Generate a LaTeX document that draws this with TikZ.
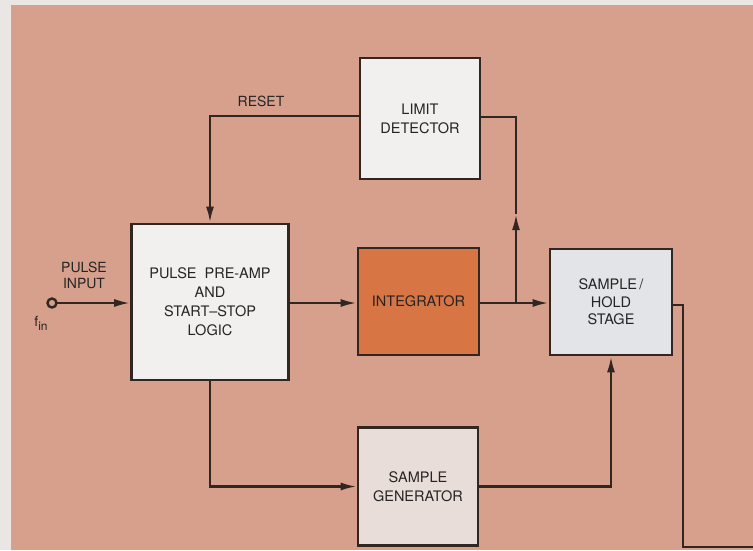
\documentclass[tikz,border=0pt]{standalone}
\usepackage{fontspec}
\setmainfont{TeX Gyre Heros}
\usetikzlibrary{arrows.meta}
\definecolor{bgs}{RGB}{214,160,140}
\definecolor{strip}{RGB}{233,230,227}
\definecolor{boxw}{RGB}{241,240,238}
\definecolor{boxo}{RGB}{216,117,68}
\definecolor{boxb}{RGB}{227,228,231}
\definecolor{boxp}{RGB}{233,221,217}
\definecolor{ink}{RGB}{50,38,34}
\definecolor{txt}{RGB}{38,36,36}
\begin{document}
\begin{tikzpicture}[x=1pt,y=-1pt,
  blk/.style={draw=ink,line width=2.6pt,inner sep=2pt,align=center,text=txt,
    font=\fontsize{14.5}{19}\selectfont},
  wire/.style={draw=ink,line width=2.4pt},
  arr/.style={wire,-{Latex[length=16pt,width=8pt]}},
  lbl/.style={text=txt,font=\fontsize{14}{16}\selectfont,align=center,inner sep=0pt}]
\useasboundingbox (0,0) rectangle (753,550);
\fill[strip] (0,0) rectangle (753,550);
\fill[bgs] (11,5) rectangle (753,550);
% blocks
\node[blk,fill=boxw,minimum width=157pt,minimum height=156pt] (pre) at (210,302)
  {PULSE\ \ PRE-AMP\\AND\\START--STOP\\LOGIC};
\node[blk,fill=boxw,minimum width=120pt,minimum height=121pt] (lim) at (420,118.5)
  {LIMIT\\DETECTOR};
\node[blk,fill=boxo,minimum width=121pt,minimum height=107pt] (int) at (418.5,301.5)
  {INTEGRATOR};
\node[blk,fill=boxb,minimum width=122pt,minimum height=106pt,
  font=\fontsize{14.5}{17.5}\selectfont] (sh) at (611,302)
  {SAMPLE\,/\\HOLD\\STAGE};
\node[blk,fill=boxp,minimum width=120pt,minimum height=118pt] (sg) at (418,486.5)
  {SAMPLE\\GENERATOR};
% coordinates
\coordinate (in) at (52,303);
\coordinate (j) at (516,303);
\coordinate (jm) at (516,214);
\coordinate (jt) at (516,117);
\coordinate (r) at (210,116);
\coordinate (o1) at (683,305);
\coordinate (o2) at (683,547);
\coordinate (out) at (753,547);
% connectors
\draw[wire,fill=bgs] (in) circle (4.5pt);
\draw[arr] ([xshift=4.5pt]in) -- (in -| pre.west);
\draw[arr] (pre.east |- j) -- (int.west |- j);
\draw[arr] (int.east |- j) -- (sh.west |- j);
\draw[arr] (j) -- (jm);
\draw[wire] (jm) -- (jt) -- (lim.east |- jt);
\draw[arr] (lim.west |- r) -- (r) -- (pre.north);
\draw[arr] (pre.south) |- (sg.west);
\draw[arr] (sg.east) -| (sh.south);
\draw[wire] (sh.east |- o1) -- (o1) -- (o2) -- (out);
% labels
\node[lbl] (reset) at (261,101) {RESET};
\node[lbl] (pin) at (84,275) {PULSE\\INPUT};
\node[lbl] (fin) at (41,323) {f\raisebox{-4pt}{\fontsize{12}{12}\selectfont in}};
\end{tikzpicture}
\end{document}
